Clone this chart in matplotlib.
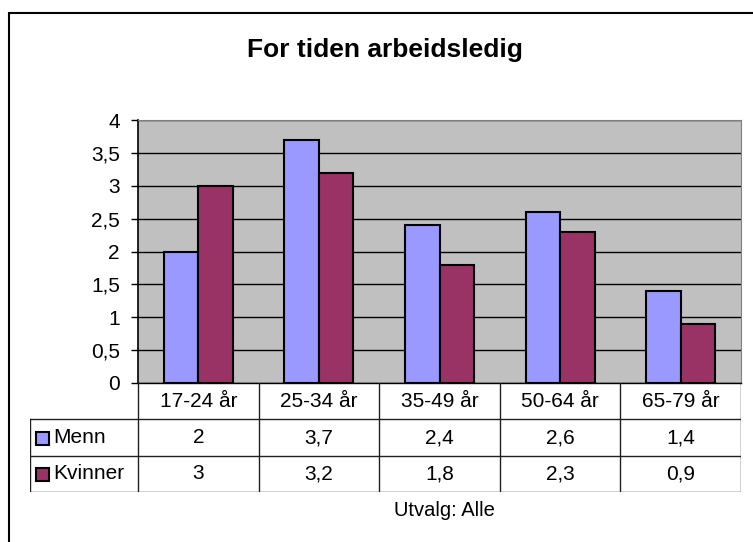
import numpy as np
import matplotlib.pyplot as plt
from matplotlib.patches import Rectangle

plt.rcParams['font.family'] = ['Liberation Sans', 'DejaVu Sans']

title = 'For tiden arbeidsledig'
categories = ['17-24 år', '25-34 år', '35-49 år', '50-64 år', '65-79 år']
series_names = ['Menn', 'Kvinner']
menn = [2, 3.7, 2.4, 2.6, 1.4]
kvinner = [3, 3.2, 1.8, 2.3, 0.9]
colors = ['#9999FF', '#993366']
yticks = [0, 0.5, 1, 1.5, 2, 2.5, 3, 3.5, 4]
footnote = 'Utvalg: Alle'

W, H = 753, 542
fig = plt.figure(figsize=(W / 100, H / 100), dpi=100)


def fx(px):
    return px / W


def fy(py):
    return 1 - py / H


# outer chart frame (runs off the right/bottom edge like the screenshot)
fig.patches.append(Rectangle((fx(9), fy(760)), fx(760), fy(13) - fy(760), transform=fig.transFigure,
                             fill=False, edgecolor='black', linewidth=1.5))

# plot area: x 138..741, y 120..383
left, right, top, bottom = 138, 741, 120, 383
ax = fig.add_axes([fx(left), fy(bottom), fx(right - left), fy(top) - fy(bottom)])
ax.set_facecolor('#C0C0C0')

x = np.arange(len(categories))
bw = 1 / 3.5
ax.bar(x - bw / 2, menn, bw, color=colors[0], edgecolor='black', linewidth=1.5, zorder=3)
ax.bar(x + bw / 2, kvinner, bw, color=colors[1], edgecolor='black', linewidth=1.5, zorder=3)

ax.set_xlim(-0.5, len(categories) - 0.5)
ax.set_ylim(0, 4)
ax.set_yticks(yticks)
ax.set_yticklabels([('%g' % v).replace('.', ',') for v in yticks], fontsize=15)
ax.set_xticks([])
ax.yaxis.grid(True, color='black', linewidth=1, zorder=0)
ax.set_axisbelow(True)
ax.tick_params(axis='y', length=5, width=1, color='black', pad=8)
ax.spines['left'].set_linewidth(1.2)
ax.spines['bottom'].set_linewidth(1)
for s in ['top', 'right']:
    ax.spines[s].set_color('#808080')

# data table under the plot: x 30..741, y 383..492
tleft, tbottom = 30, 492
colw = (right - left) / len(categories)
xmin = (tleft - left) / colw - 0.5
tax = fig.add_axes([fx(tleft), fy(tbottom), fx(right - tleft), fy(bottom) - fy(tbottom)])
tax.set_xlim(xmin, len(categories) - 0.5)
tax.set_ylim(3, 0)
tax.axis('off')
lc = '#202020'
lw = 1
for i in range(len(categories) + 1):
    tax.plot([i - 0.5, i - 0.5], [0, 3], color=lc, lw=lw)
for j in range(1, 4):
    tax.plot([xmin, len(categories) - 0.5], [j, j], color=lc, lw=lw)
tax.plot([xmin, xmin], [1, 3], color=lc, lw=lw)
for i, c in enumerate(categories):
    tax.text(i, 0.5, c, ha='center', va='center', fontsize=15)
rowh = (tbottom - bottom) / 3
for r, (name, vals) in enumerate(zip(series_names, [menn, kvinner])):
    for i, v in enumerate(vals):
        tax.text(i, r + 1.5, ('%g' % v).replace('.', ','), ha='center', va='center', fontsize=15)
    sq_w, sq_h = 13 / colw, 13 / rowh
    tax.add_patch(Rectangle((xmin + 5.5 / colw, r + 1.5 - sq_h / 2 + 0.03), sq_w, sq_h, facecolor=colors[r],
                            edgecolor='black', linewidth=1.5))
    tax.text(xmin + 23 / colw, r + 1.5, name, ha='left', va='center', fontsize=15)

fig.text(fx(385), fy(50), title, ha='center', va='center', fontsize=19, fontweight='bold')
fig.text(fx(444), fy(511), footnote, ha='center', va='center', fontsize=14.5)

fig.savefig('out.png', dpi=100)
